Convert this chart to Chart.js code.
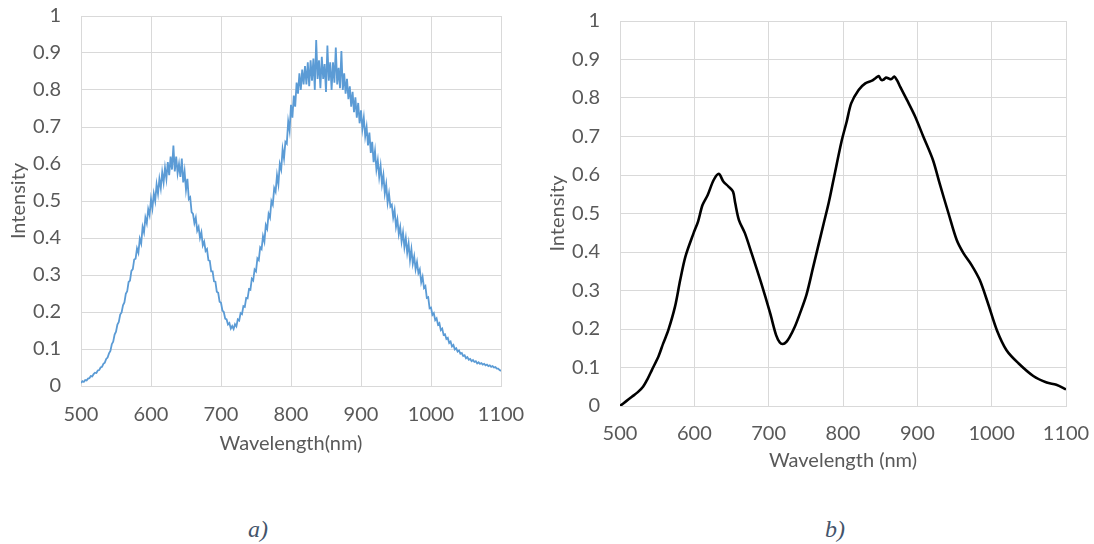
<!DOCTYPE html>
<html><head><meta charset="utf-8">
<script src="https://cdn.jsdelivr.net/npm/chart.js@4.4.0/dist/chart.umd.min.js"></script>
<style>
html,body{margin:0;padding:0;background:#fff;width:1094px;height:544px;overflow:hidden;}
.box{position:absolute;}
.cap{position:absolute;font-family:"Liberation Serif","DejaVu Serif",serif;font-style:italic;font-size:24px;color:#44546A;}
</style></head><body>
<div class="box" style="left:0;top:0;width:530px;height:470px"><canvas id="ca" width="530" height="470"></canvas></div>
<div class="box" style="left:540px;top:0;width:554px;height:490px"><canvas id="cb" width="554" height="490"></canvas></div>
<div class="cap" style="left:248px;top:516px">a)</div>
<div class="cap" style="left:825px;top:516px">b)</div>
<script>
// ---- Panel a) : measured spectrum (sampled every 2 nm from 500 nm) ----
const wavelengthStartA = 500;
const wavelengthStepA = 2;
const intensityA = [
  0.008,0.013,0.011,0.016,0.015,0.020,0.021,0.027,0.026,0.032,
  0.036,0.035,0.042,0.043,0.050,0.052,0.060,0.063,0.073,0.077,
  0.088,0.095,0.113,0.120,0.139,0.147,0.166,0.173,0.193,0.199,
  0.218,0.226,0.249,0.256,0.281,0.285,0.311,0.316,0.342,0.344,
  0.372,0.360,0.398,0.385,0.430,0.415,0.455,0.440,0.478,0.462,
  0.505,0.480,0.520,0.500,0.545,0.520,0.560,0.535,0.578,0.550,
  0.590,0.560,0.605,0.570,0.620,0.585,0.650,0.580,0.620,0.575,
  0.600,0.565,0.615,0.550,0.580,0.530,0.560,0.505,0.510,0.470,
  0.465,0.440,0.455,0.420,0.430,0.400,0.415,0.380,0.390,0.365,
  0.370,0.340,0.338,0.310,0.310,0.283,0.282,0.255,0.252,0.228,
  0.225,0.204,0.200,0.182,0.180,0.166,0.170,0.155,0.162,0.154,
  0.167,0.161,0.180,0.177,0.197,0.194,0.216,0.214,0.238,0.237,
  0.262,0.260,0.290,0.285,0.315,0.310,0.345,0.340,0.375,0.370,
  0.405,0.390,0.435,0.425,0.465,0.455,0.500,0.490,0.535,0.525,
  0.570,0.545,0.600,0.585,0.640,0.615,0.660,0.655,0.715,0.690,
  0.760,0.725,0.785,0.755,0.820,0.790,0.845,0.800,0.855,0.815,
  0.865,0.815,0.875,0.810,0.880,0.825,0.885,0.800,0.935,0.830,
  0.880,0.805,0.890,0.830,0.870,0.795,0.920,0.825,0.875,0.800,
  0.875,0.820,0.915,0.815,0.860,0.805,0.905,0.800,0.845,0.790,
  0.830,0.775,0.810,0.755,0.795,0.740,0.780,0.725,0.765,0.710,
  0.745,0.695,0.725,0.675,0.700,0.650,0.685,0.630,0.660,0.605,
  0.635,0.585,0.610,0.565,0.595,0.545,0.570,0.520,0.545,0.495,
  0.520,0.485,0.490,0.455,0.475,0.430,0.450,0.410,0.430,0.390,
  0.415,0.375,0.400,0.360,0.385,0.340,0.370,0.330,0.350,0.315,
  0.335,0.305,0.315,0.280,0.295,0.265,0.270,0.238,0.240,0.210,
  0.212,0.192,0.197,0.178,0.183,0.166,0.170,0.151,0.155,0.138,
  0.140,0.127,0.130,0.116,0.120,0.107,0.111,0.099,0.102,0.093,
  0.096,0.087,0.089,0.081,0.083,0.075,0.078,0.071,0.073,0.067,
  0.070,0.065,0.067,0.061,0.064,0.060,0.062,0.058,0.060,0.056,
  0.058,0.054,0.056,0.052,0.054,0.050,0.051,0.047,0.047,0.043,
  0.041
];

// ---- Panel b) : smoothed spectrum ----
const wavelengthB = [500,508,516,524,531,537,543,552,558,565,574,581,588,599,605,611,618,626,633,639,646,652,655,660,668,677,690,702,710,715,719,724,728,735,742,751,760,766,774,781,788,798,805,811,821,830,839,844,848,851,854,858,861,865,869,873,877,886,897,908,921,930,942,953,962,973,984,995,1007,1020,1036,1056,1074,1087,1100];
const intensityB = [0.0,0.012,0.024,0.036,0.05,0.07,0.094,0.13,0.162,0.197,0.258,0.327,0.388,0.449,0.479,0.522,0.548,0.587,0.603,0.583,0.570,0.557,0.527,0.483,0.449,0.397,0.319,0.241,0.184,0.165,0.161,0.167,0.178,0.205,0.24,0.29,0.362,0.41,0.474,0.53,0.595,0.687,0.739,0.786,0.821,0.838,0.845,0.852,0.857,0.848,0.847,0.853,0.851,0.849,0.856,0.845,0.829,0.795,0.752,0.700,0.639,0.578,0.500,0.431,0.397,0.366,0.327,0.267,0.197,0.145,0.111,0.078,0.061,0.055,0.043];

const xTickValues = [500,600,700,800,900,1000,1100];
const yTickValues = [0,0.1,0.2,0.3,0.4,0.5,0.6,0.7,0.8,0.9,1];
const xTitleA = 'Wavelength(nm)';
const xTitleB = 'Wavelength (nm)';
const yTitle = 'Intensity';

const wavelengthA = intensityA.map((_, i) => wavelengthStartA + i * wavelengthStepA);

const GRID = '#d9d9d9', TXT = '#595959', FONT = 'Lato, "Open Sans", sans-serif';
const NOTICK = 'rgba(0,0,0,0)';

function makeChart(id, xs, ys, color, lw, tension, xTitle, lay) {
  return new Chart(document.getElementById(id), {
    type: 'line',
    data: { datasets: [{
      data: xs.map((x, i) => ({x: x, y: ys[i]})),
      borderColor: color, borderWidth: lw, pointRadius: 0, tension: tension,
      fill: false
    }]},
    options: {
      responsive: false, animation: false, events: [],
      layout: { padding: lay.padding },
      plugins: { legend: {display: false}, tooltip: {enabled: false} },
      scales: {
        x: {
          type: 'linear', min: 500, max: 1100,
          afterBuildTicks: s => { s.ticks = xTickValues.map(v => ({value: v})); },
          afterFit: s => { s.height = lay.xh; },
          grid: { color: GRID, lineWidth: 1, drawTicks: true, tickLength: lay.xtl, tickColor: NOTICK },
          border: { display: true, color: GRID },
          ticks: { color: TXT, font: {family: FONT, size: 20}, padding: 2, maxRotation: 0,
                   callback: v => String(v) },
          title: { display: true, text: xTitle, color: TXT, font: {family: FONT, size: 20}, padding: 4 }
        },
        y: {
          type: 'linear', min: 0, max: 1,
          afterBuildTicks: s => { s.ticks = yTickValues.map(v => ({value: v})); },
          afterFit: s => { s.width = lay.yw; },
          grid: { color: GRID, lineWidth: 1, drawTicks: true, tickLength: lay.ytl, tickColor: NOTICK },
          border: { display: true, color: GRID },
          ticks: { color: TXT, font: {family: FONT, size: 20}, padding: 2,
                   callback: v => String(Math.round(v * 10) / 10) },
          title: { display: true, text: yTitle, color: TXT, font: {family: FONT, size: 20}, padding: 4 }
        }
      }
    }
  });
}

makeChart('ca', wavelengthA, intensityA, '#5B9BD5', 1.8, 0, xTitleA,
  { padding: {top: 16, right: 29, left: 3, bottom: 10}, xh: 74, yw: 78, xtl: 15, ytl: 18 });
makeChart('cb', wavelengthB, intensityB, '#000000', 2.6, 0.3, xTitleB,
  { padding: {top: 21, right: 28, left: 2, bottom: 13}, xh: 71, yw: 78, xtl: 14, ytl: 18 });
</script>
</body></html>
